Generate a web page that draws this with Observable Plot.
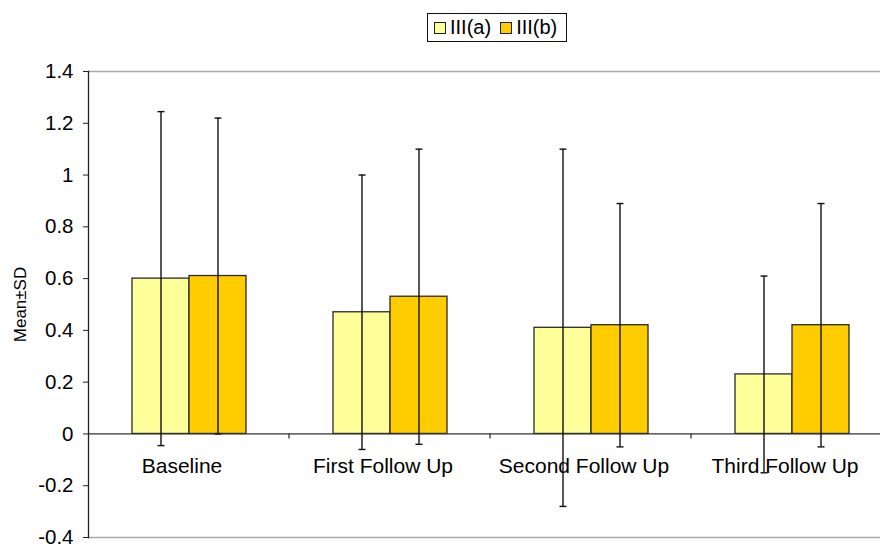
<!DOCTYPE html>
<html>
<head>
<meta charset="utf-8">
<script src="https://cdn.jsdelivr.net/npm/d3@7"></script>
<script src="https://cdn.jsdelivr.net/npm/@observablehq/plot@0.6"></script>
<style>
  body { margin: 0; background: #fff; overflow: hidden; font-family: Arial, "Liberation Sans", sans-serif; }
  #wrap { position: relative; width: 880px; height: 548px; overflow: hidden; }
  #legend { position: relative; height: 48px; }
  #legend .box {
    position: absolute; left: 427px; top: 13px; width: 140px; height: 29px;
    box-sizing: border-box; border: 1px solid #111; padding-left: 6px;
    display: flex; align-items: center; font-size: 20px; color: #000; white-space: nowrap;
  }
  #legend .sw { display: inline-block; width: 12px; height: 12px; box-sizing: border-box; border: 1px solid #222; margin-right: 4px; }
  #legend .item { display: flex; align-items: center; margin-right: 9px; }
</style>
</head>
<body>
<div id="wrap">
  <div id="legend"><div class="box"></div></div>
  <div id="chart"></div>
</div>
<script>
// Group means and standard deviations at each visit
const categories = ["Baseline", "First Follow Up", "Second Follow Up", "Third Follow Up"];
const seriesNames = ["III(a)", "III(b)"];
const meanA = [0.60, 0.47, 0.41, 0.23];
const sdA   = [0.645, 0.53, 0.69, 0.38];
const meanB = [0.61, 0.53, 0.42, 0.42];
const sdB   = [0.61, 0.57, 0.47, 0.47];
const yTicks = [-0.4, -0.2, 0, 0.2, 0.4, 0.6, 0.8, 1, 1.2, 1.4];
const colors = ["#FFFF99", "#FFCC00"];

const rows = categories.flatMap((c, i) => [
  {category: c, series: seriesNames[0], mean: meanA[i], sd: sdA[i]},
  {category: c, series: seriesNames[1], mean: meanB[i], sd: sdB[i]}
]);

// Legend
const box = document.querySelector("#legend .box");
seriesNames.forEach((name, i) => {
  const item = document.createElement("span");
  item.className = "item";
  const sw = document.createElement("span");
  sw.className = "sw";
  sw.style.background = colors[i];
  item.appendChild(sw);
  item.appendChild(document.createTextNode(name));
  box.appendChild(item);
});

// Horizontal cap for the error bars
const capSymbol = {
  draw(context, size) {
    const w = Math.sqrt(size / Math.PI);
    context.moveTo(-w, 0);
    context.lineTo(w, 0);
  }
};

// Small tick on the zero line at the right edge of each category
const boundaryTicks = (index, scales, values, dims) => {
  const x = dims.width - dims.marginRight;
  const y0 = scales.y(0);
  const g = d3.create("svg:g");
  g.append("line")
    .attr("x1", x).attr("x2", x)
    .attr("y1", y0).attr("y2", y0 + 5)
    .attr("stroke", "#333").attr("stroke-width", 1.3);
  return g.node();
};

const font = "Arial, 'Liberation Sans', sans-serif";

const chart = Plot.plot({
  width: 880,
  height: 500,
  marginLeft: 88,
  marginRight: -12,
  marginTop: 23,
  marginBottom: 11,
  style: {fontFamily: font, background: "white", color: "#000"},
  fx: {domain: categories, padding: 0, axis: null, label: null},
  x: {domain: seriesNames, paddingInner: 0, paddingOuter: 0.733, axis: null},
  y: {domain: [yTicks[0], yTicks[yTicks.length - 1]]},
  color: {domain: seriesNames, range: colors},
  marks: [
    Plot.ruleY([yTicks[0], yTicks[yTicks.length - 1]], {stroke: "#a8a8a8", strokeWidth: 1.3}),
    Plot.barY(rows, {fx: "category", x: "series", y: "mean", fill: "series", stroke: "#2a2a2a", strokeWidth: 1.3}),
    Plot.ruleY([0], {stroke: "#333", strokeWidth: 1.3}),
    boundaryTicks,
    Plot.text(categories, {fx: d => d, y: () => 0, text: d => d, dy: 32, dx: -7, fontSize: 21, fill: "#000"}),
    Plot.ruleX(rows, {fx: "category", x: "series", y1: d => d.mean - d.sd, y2: d => d.mean + d.sd, stroke: "#111", strokeWidth: 1.4}),
    Plot.dot(rows, {fx: "category", x: "series", y: d => d.mean - d.sd, symbol: capSymbol, r: 3.5, fill: "none", stroke: "#111", strokeWidth: 1.4}),
    Plot.dot(rows, {fx: "category", x: "series", y: d => d.mean + d.sd, symbol: capSymbol, r: 3.5, fill: "none", stroke: "#111", strokeWidth: 1.4}),
    Plot.axisY(yTicks, {
      tickSize: 5, tickPadding: 10, fontSize: 20.5, stroke: "#222",
      tickFormat: d => String(Math.round(d * 10) / 10), label: null
    }),
    Plot.frame({anchor: "left", facetAnchor: "left", stroke: "#222", strokeWidth: 1.3}),
    Plot.text(["Mean±SD"], {frameAnchor: "left", textAnchor: "middle", rotate: -90, dx: -68, fontSize: 17, fill: "#000", facetAnchor: "left"})
  ]
});

document.getElementById("chart").appendChild(chart);
</script>
</body>
</html>
